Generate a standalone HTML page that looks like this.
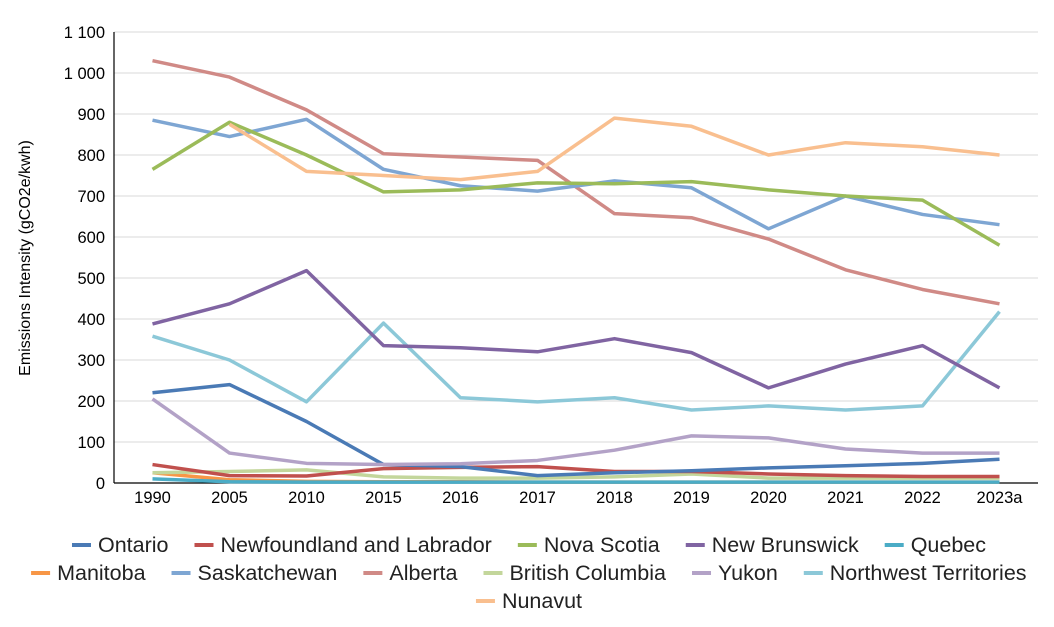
<!DOCTYPE html>
<html><head><meta charset="utf-8"><style>
body{margin:0;background:#fff;font-family:"Liberation Sans",sans-serif;}
svg text{font-family:"Liberation Sans",sans-serif;}
</style></head><body>
<svg id="c" width="1054" height="622"></svg>
<script>
const categories=["1990","2005","2010","2015","2016","2017","2018","2019","2020","2021","2022","2023a"];
const yTicks=[0,100,200,300,400,500,600,700,800,900,1000,1100];
const yTickLabels=["0","100","200","300","400","500","600","700","800","900","1 000","1 100"];
const seriesNames=["Ontario","Newfoundland and Labrador","Nova Scotia","New Brunswick","Quebec","Manitoba","Saskatchewan","Alberta","British Columbia","Yukon","Northwest Territories","Nunavut"];
const seriesColors=["#4a7ab5","#c0504d","#9bbb59","#8064a2","#4bacc6","#f79646","#7ea6d3","#d08a86","#c3d69b","#b3a2c7","#8cc8d8","#f9bf8f"];
const ontario=[220,240,150,45,40,18,25,30,37,42,48,58];
const newfoundland=[45,18,17,35,38,40,28,28,22,18,16,16];
const novaScotia=[765,880,800,710,715,732,730,735,715,700,690,580];
const newBrunswick=[388,437,518,335,330,320,352,318,232,290,335,232];
const quebec=[10,3,2,2,2,2,2,2,2,2,2,2];
const manitoba=[25,8,4,3,3,2,2,2,2,2,2,2];
const saskatchewan=[885,845,887,765,725,712,737,720,620,700,655,630];
const alberta=[1030,990,910,803,795,787,657,647,595,520,472,437];
const britishColumbia=[25,28,32,15,12,12,15,22,12,12,12,12];
const yukon=[205,73,48,45,47,55,80,115,110,83,73,73];
const nwt=[358,300,198,390,208,198,208,178,188,178,188,418];
const nunavut=[null,875,760,750,740,760,890,870,800,830,820,800];
const seriesValues=[ontario,newfoundland,novaScotia,newBrunswick,quebec,manitoba,saskatchewan,alberta,britishColumbia,yukon,nwt,nunavut];
const drawOrder=[5,4,8,1,0,9,10,3,7,6,2,11];

const NS="http://www.w3.org/2000/svg";
const svg=document.getElementById('c');
const L=114,R=1038,T=32,B=483,yMax=1100;
const band=(R-L)/categories.length;
const x=i=>L+band*(i+0.5);
const y=v=>B-(v/yMax)*(B-T);
function mk(t,a){const e=document.createElementNS(NS,t);for(const k in a)e.setAttribute(k,a[k]);svg.appendChild(e);return e;}
yTicks.forEach((v,i)=>{
  if(v>0){const g=mk('line',{x1:L,x2:R,y1:y(v),y2:y(v),stroke:'#d9d9d9','stroke-width':1});
  
  }
  const t=mk('text',{x:L-9,y:y(v)+6,'text-anchor':'end','font-size':16.5,fill:'#000'});
  t.textContent=yTickLabels[i];
  
  
});
const ax=mk('line',{x1:L,x2:R,y1:B,y2:B,stroke:'#000','stroke-width':1.2});


const ay=mk('line',{x1:L,x2:L,y1:T,y2:B,stroke:'#000','stroke-width':1.2});


categories.forEach((c,i)=>{
  const t=mk('text',{x:x(i),y:503,'text-anchor':'middle','font-size':16.5,fill:'#000'});
  t.textContent=c;
  
  
});
const yt=mk('text',{x:0,y:0,'text-anchor':'middle','font-size':16,fill:'#000',transform:'translate(30,258) rotate(-90)'});
yt.textContent='Emissions Intensity (gCO2e/kwh)';


drawOrder.forEach(s=>{
  let d='';let started=false;
  seriesValues[s].forEach((v,i)=>{if(v==null)return;d+=(started?'L':'M')+x(i)+','+y(v);started=true;});
  const p=mk('path',{d:d,fill:'none',stroke:seriesColors[s],'stroke-width':3.5,'stroke-linejoin':'round'});
  
  
});
// legend
const rows=[[0,1,2,3,4],[5,6,7,8,9,10],[11]];
const rowY=[545,573,601];
const ctx=document.createElement('canvas').getContext('2d');ctx.font='21.5px "Liberation Sans"';
rows.forEach((r,ri)=>{
  const gap=26,sw=19;
  const widths=r.map(s=>sw+7+ctx.measureText(seriesNames[s]).width);
  const total=widths.reduce((a,b)=>a+b,0)+gap*(r.length-1);
  let cx=(1054-total)/2+2;
  r.forEach((s,k)=>{
    const ln=mk('line',{x1:cx,x2:cx+sw,y1:rowY[ri],y2:rowY[ri],stroke:seriesColors[s],'stroke-width':4});
    
    
    const t=mk('text',{x:cx+sw+7,y:rowY[ri]+7,'font-size':21.5,fill:'#222'});
    t.textContent=seriesNames[s];
    
    
    cx+=widths[k]+gap;
  });
});
</script>
</body></html>
